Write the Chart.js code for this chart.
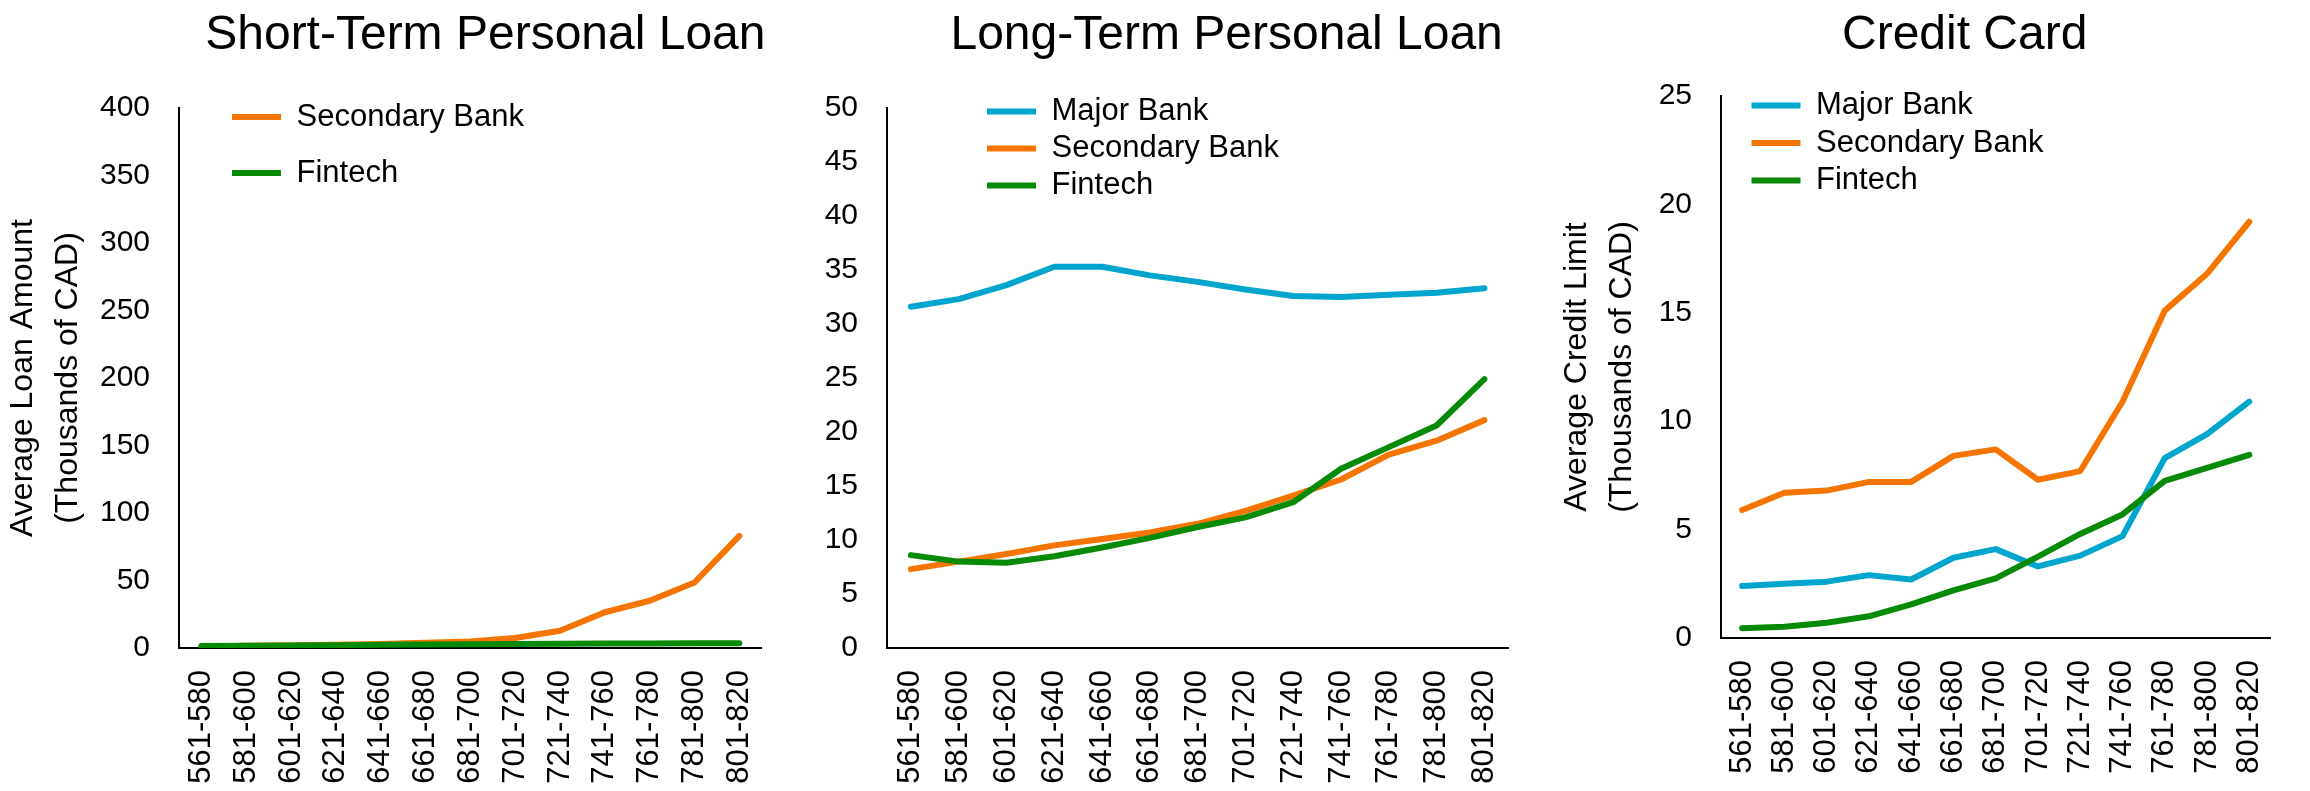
<!DOCTYPE html>
<html lang="en">
  <head>
    <meta charset="UTF-8" />
    <title>Average Loan Amounts and Credit Limits by Credit Score</title>
    <script src="https://cdn.jsdelivr.net/npm/chart.js"></script>
    <style>
      body { margin: 0; background: #fff; overflow: hidden; }
      canvas { position: absolute; top: 0; }
    </style>
  </head>
  <body>
    <canvas id="shortTerm" width="800" height="791" style="left:0px"></canvas>
    <canvas id="longTerm" width="745" height="791" style="left:800px"></canvas>
    <canvas id="creditCard" width="765" height="791" style="left:1545px"></canvas>

    <script>
      // credit score bands
      const scoreBands = ['561-580', '581-600', '601-620', '621-640', '641-660', '661-680', '681-700',
                          '701-720', '721-740', '741-760', '761-780', '781-800', '801-820'];

      // short-term personal loan, thousands of CAD
      const shortSecondary = [1.2, 1.6, 2, 2.5, 3, 3.8, 4.8, 7.4, 12.8, 26.5, 35, 48.5, 83];
      const shortFintech = [1.5, 1.7, 1.9, 2.1, 2.4, 2.6, 2.8, 3, 3.2, 3.3, 3.4, 3.5, 3.5];

      // long-term personal loan, thousands of CAD
      const longMajor = [31.6, 32.3, 33.6, 35.3, 35.3, 34.5, 33.9, 33.2, 32.6, 32.5, 32.7, 32.9, 33.3];
      const longSecondary = [7.3, 8.0, 8.7, 9.5, 10.1, 10.7, 11.5, 12.7, 14.1, 15.6, 17.9, 19.2, 21.1];
      const longFintech = [8.6, 8.0, 7.9, 8.5, 9.3, 10.2, 11.2, 12.1, 13.5, 16.6, 18.6, 20.6, 24.9];

      // credit card limits, thousands of CAD
      const cardMajor = [2.4, 2.5, 2.6, 2.9, 2.7, 3.7, 4.1, 3.3, 3.8, 4.7, 8.3, 9.4, 10.9];
      const cardSecondary = [5.9, 6.7, 6.8, 7.2, 7.2, 8.4, 8.7, 7.3, 7.7, 10.9, 15.1, 16.8, 19.2];
      const cardFintech = [0.45, 0.52, 0.7, 1.0, 1.55, 2.2, 2.75, 3.75, 4.8, 5.7, 7.25, 7.85, 8.45];

      const BLUE = '#00A5CD';
      const ORANGE = '#F57500';
      const GREEN = '#078A07';

      Chart.defaults.font.family = "'Liberation Sans', Arial, sans-serif";
      Chart.defaults.color = '#000';

      // shifts the title and places the legend inside the plot after layout
      const nudge = {
        id: 'nudge',
        afterLayout(chart, args, opts) {
          const t = chart.titleBlock;
          if (t && opts.titleX) {
            t.left += opts.titleX;
            t.right += opts.titleX;
          }
          const l = chart.legend;
          const area = chart.chartArea;
          if (l && opts.legend) {
            const w = l.width, h = l.height;
            l.left = area.left + opts.legend[0];
            l.right = l.left + w;
            l.top = area.top + opts.legend[1];
            l.bottom = l.top + h;
          }
        }
      };

      function series(label, data, color, order) {
        return {
          label, data, order,
          borderColor: color,
          backgroundColor: color,
          borderWidth: 6,
          borderCapStyle: 'round',
          borderJoinStyle: 'round',
          pointRadius: 0,
          pointHoverRadius: 0,
          tension: 0
        };
      }

      function makeChart(id, cfg) {
        const ctx = document.getElementById(id).getContext('2d');
        return new Chart(ctx, {
          type: 'line',
          data: { labels: scoreBands, datasets: cfg.datasets },
          plugins: [nudge],
          options: {
            responsive: false,
            animation: false,
            layout: { padding: { left: 0, right: cfg.padRight, top: 0, bottom: 0 } },
            plugins: {
              title: {
                display: true,
                text: cfg.title,
                fullSize: false,
                font: { size: 48, weight: 'normal', lineHeight: 1.2 },
                padding: { top: 7, bottom: cfg.titleGap }
              },
              legend: {
                position: 'chartArea',
                align: 'start',
                labels: {
                  usePointStyle: true,
                  pointStyle: 'line',
                  pointStyleWidth: 49,
                  padding: cfg.legendPad,
                  font: { size: 31 },
                  sort: (a, b) => a.datasetIndex - b.datasetIndex
                }
              },
              tooltip: { enabled: false },
              nudge: { titleX: cfg.titleX, legend: cfg.legendShift }
            },
            scales: {
              x: {
                offset: true,
                grid: { display: false, drawTicks: false },
                border: { display: true, color: '#000', width: 2 },
                ticks: { autoSkip: false, minRotation: 90, maxRotation: 90, padding: 22, font: { size: 31 } },
                afterFit: (scale) => { scale.height = cfg.xHeight; }
              },
              y: {
                min: 0,
                max: cfg.yMax,
                grid: { display: false, drawTicks: false },
                border: { display: true, color: '#000', width: 2 },
                ticks: { stepSize: cfg.yStep, padding: 29, font: { size: 30 } },
                title: {
                  display: !!cfg.yTitle,
                  text: cfg.yTitle || '',
                  font: { size: 32, lineHeight: 1.4 },
                  padding: { top: cfg.yTitlePad, bottom: 0 }
                },
                afterFit: (scale) => { scale.width = cfg.yWidth; }
              }
            }
          }
        });
      }

      makeChart('shortTerm', {
        title: 'Short-Term Personal Loan',
        datasets: [
          series('Secondary Bank', shortSecondary, ORANGE, 1),
          series('Fintech', shortFintech, GREEN, 0)
        ],
        yMax: 400, yStep: 50,
        yTitle: ['Average Loan Amount', '(Thousands of CAD)'], yTitlePad: 1,
        yWidth: 179, xHeight: 143, padRight: 17, titleGap: 43.4,
        titleX: 15, legendPad: 25, legendShift: [28, -31.5]
      });

      makeChart('longTerm', {
        title: 'Long-Term Personal Loan',
        datasets: [
          series('Major Bank', longMajor, BLUE, 2),
          series('Secondary Bank', longSecondary, ORANGE, 1),
          series('Fintech', longFintech, GREEN, 0)
        ],
        yMax: 50, yStep: 5,
        yWidth: 87, xHeight: 143, padRight: 14, titleGap: 43.4,
        titleX: 29, legendPad: 6, legendShift: [94, -18]
      });

      makeChart('creditCard', {
        title: 'Credit Card',
        datasets: [
          series('Major Bank', cardMajor, BLUE, 2),
          series('Secondary Bank', cardSecondary, ORANGE, 1),
          series('Fintech', cardFintech, GREEN, 0)
        ],
        yMax: 25, yStep: 5,
        yTitle: ['Average Credit Limit', '(Thousands of CAD)'], yTitlePad: 10,
        yWidth: 176, xHeight: 153, padRight: 15, titleGap: 31.4,
        titleX: -31, legendPad: 6.5, legendShift: [24, -12.5]
      });
    </script>
  </body>
</html>
